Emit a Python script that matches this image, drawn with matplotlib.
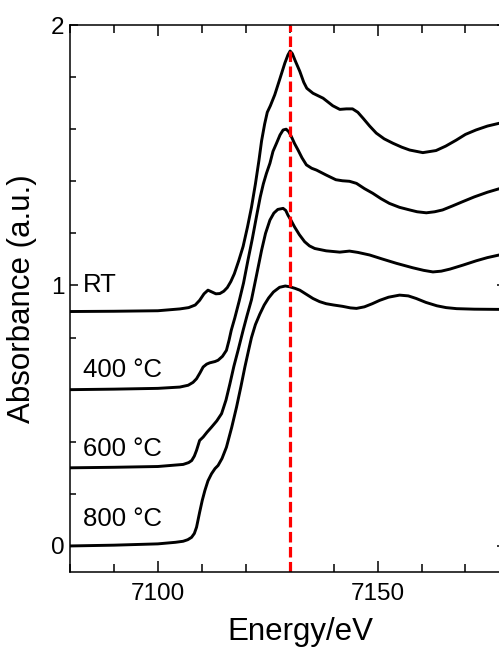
import numpy as np
import matplotlib
matplotlib.use("Agg")
import matplotlib.pyplot as plt
from matplotlib.ticker import MultipleLocator

plt.rcParams['font.family'] = ['Liberation Sans', 'DejaVu Sans']

# 数据: 能量 (eV) 与吸收 (已偏移)
e_rt = [7080, 7090, 7100, 7105, 7107, 7108.5, 7109.5, 7110.5, 7111.4, 7112.3, 7113.2, 7114.1,
        7115, 7115.8, 7116.6, 7117.4, 7118.4, 7119.4, 7120.4, 7121.3, 7122.2, 7123, 7123.6,
        7124.3, 7124.9, 7125.6, 7126.6, 7127.7, 7128.9, 7129.6, 7130.1, 7130.6, 7131.2,
        7132.3, 7133.2, 7133.9, 7135.3, 7137.6, 7139.8, 7141.4, 7142.9, 7144.3, 7145.5,
        7146.7, 7148.2, 7149.7, 7151.5, 7153.5, 7155.5, 7157.3, 7160.3, 7163.3, 7165.5,
        7167.9, 7170, 7172.4, 7175, 7179]
a_rt = [0.900, 0.901, 0.903, 0.910, 0.915, 0.925, 0.943, 0.968, 0.982, 0.975, 0.968, 0.969,
        0.978, 0.992, 1.015, 1.045, 1.095, 1.150, 1.225, 1.300, 1.390, 1.480, 1.555,
        1.620, 1.665, 1.690, 1.732, 1.790, 1.854, 1.885, 1.900, 1.890, 1.865,
        1.822, 1.780, 1.757, 1.738, 1.719, 1.690, 1.676, 1.678, 1.678, 1.665,
        1.642, 1.612, 1.585, 1.563, 1.546, 1.531, 1.520, 1.510, 1.518, 1.535,
        1.558, 1.580, 1.597, 1.612, 1.628]

e_400 = [7080, 7090, 7100, 7105, 7106.9, 7108, 7108.8, 7109.6, 7110.3, 7111.1, 7111.8, 7113,
         7113.7, 7114.7, 7115.6, 7116.2, 7116.7, 7117.5, 7118.5, 7119.5, 7120.5, 7121.5,
         7122.5, 7123.3, 7124.0, 7124.7, 7125.5, 7126.2, 7127, 7127.8, 7128.5, 7129.2,
         7129.8, 7130.4, 7131.1, 7131.9, 7132.8, 7133.8, 7135, 7136.1, 7138.3, 7140.5,
         7142, 7143.6, 7145.2, 7147, 7148.9, 7150.8, 7152.7, 7155, 7157.3, 7159, 7161.1,
         7163, 7164.8, 7167, 7169.4, 7172, 7175, 7179]
a_400 = [0.600, 0.602, 0.605, 0.610, 0.617, 0.628, 0.642, 0.665, 0.687, 0.698, 0.703, 0.708,
         0.713, 0.728, 0.751, 0.790, 0.828, 0.875, 0.940, 1.010, 1.097, 1.180,
         1.270, 1.340, 1.390, 1.430, 1.469, 1.515, 1.546, 1.578, 1.597, 1.600,
         1.590, 1.571, 1.545, 1.520, 1.490, 1.463, 1.450, 1.443, 1.424, 1.406,
         1.402, 1.400, 1.392, 1.372, 1.354, 1.333, 1.315, 1.300, 1.290, 1.283, 1.279,
         1.283, 1.290, 1.305, 1.322, 1.340, 1.358, 1.378]

e_600 = [7080, 7090, 7100, 7105.75, 7107, 7107.7, 7108.3, 7108.8, 7109.5, 7110.3, 7111.2,
         7112.2, 7113.4, 7114.5, 7115.5, 7116.4, 7117.3, 7118.25, 7119.4, 7120.3, 7121.3,
         7122.4, 7123.6, 7124.5, 7125.5, 7126.4, 7127.3, 7128.5, 7129.1, 7129.6, 7130.3,
         7131.1, 7132.2, 7133.4, 7134.5, 7135.7, 7138.3, 7141.4, 7143.6, 7145.5, 7148.2,
         7151, 7154.3, 7158, 7160.5, 7162.6, 7164.5, 7166.5, 7169.4, 7172.5, 7175, 7179]
a_600 = [0.300, 0.302, 0.305, 0.313, 0.320, 0.328, 0.345, 0.367, 0.405, 0.418, 0.437,
         0.456, 0.480, 0.508, 0.560, 0.623, 0.690, 0.751, 0.828, 0.885, 0.945,
         1.035, 1.135, 1.200, 1.251, 1.278, 1.292, 1.296, 1.288, 1.270, 1.250,
         1.225, 1.195, 1.168, 1.152, 1.142, 1.133, 1.128, 1.132, 1.127, 1.117,
         1.102, 1.085, 1.068, 1.058, 1.052, 1.055, 1.063, 1.078, 1.095, 1.107, 1.122]

e_800 = [7080, 7090, 7100, 7104, 7105.75, 7106.8, 7107.66, 7108.3, 7108.8, 7109.5, 7110.1,
         7110.7, 7111.4, 7112.2, 7113, 7113.7, 7114.6, 7115.6, 7116.8, 7117.9, 7118.9,
         7119.8, 7120.6, 7121.3, 7122.2, 7123.2, 7124.2, 7125.2, 7126.3, 7127.7, 7129,
         7130, 7131.2, 7132.3, 7133.8, 7135.3, 7136.8, 7138.3, 7140, 7142, 7143.8, 7145.2,
         7147, 7148.8, 7150.5, 7152.5, 7155, 7157, 7158.8, 7161, 7163.5, 7165.6, 7168,
         7172, 7179]
a_800 = [0.000, 0.003, 0.008, 0.014, 0.018, 0.024, 0.033, 0.048, 0.072, 0.129, 0.175,
         0.213, 0.250, 0.277, 0.297, 0.309, 0.336, 0.379, 0.455, 0.533, 0.612,
         0.687, 0.748, 0.800, 0.850, 0.890, 0.925, 0.952, 0.975, 0.993, 0.998,
         0.995, 0.989, 0.982, 0.966, 0.950, 0.938, 0.930, 0.925, 0.920, 0.914, 0.912,
         0.918, 0.930, 0.943, 0.955, 0.963, 0.960, 0.950, 0.935, 0.922, 0.915, 0.911,
         0.909, 0.908]

labels = ['RT', '400 °C', '600 °C', '800 °C']
label_y = [0.975, 0.648, 0.347, 0.078]
peak_e = 7130

fig = plt.figure(figsize=(4.99, 6.48), dpi=100)
ax = fig.add_axes([70 / 499, 76 / 648, 435 / 499, 547 / 648])

for e, a in [(e_rt, a_rt), (e_400, a_400), (e_600, a_600), (e_800, a_800)]:
    ax.plot(e, a, color='black', lw=2.1, solid_joinstyle='round')

ax.axvline(peak_e, color='red', lw=2.3, ls=(0, (3.3, 1.4)))

for lab, y in zip(labels, label_y):
    ax.text(7083, y, lab, fontsize=18.5, ha='left', va='baseline')

ax.set_xlim(7080, 7179)
ax.set_ylim(-0.1, 2)
ax.xaxis.set_major_locator(MultipleLocator(50))
ax.xaxis.set_minor_locator(MultipleLocator(10))
ax.yaxis.set_major_locator(MultipleLocator(1))
ax.yaxis.set_minor_locator(MultipleLocator(0.2))
ax.tick_params(which='both', direction='in', top=True, right=True, width=1.1)
ax.tick_params(axis='x', which='major', length=8, pad=8, labelsize=17.5)
ax.tick_params(axis='x', which='minor', length=5.5)
ax.tick_params(axis='y', which='major', length=6, pad=4, labelsize=17.5)
ax.tick_params(axis='y', which='minor', length=4)
for s in ax.spines.values():
    s.set_linewidth(1.1)

ax.set_xlabel('Energy/eV', fontsize=22.5, va='baseline')
ax.set_ylabel('Absorbance (a.u.)', fontsize=22.5, va='center')
ax.xaxis.set_label_coords(230 / 435, -68 / 547)
ax.yaxis.set_label_coords(-48 / 435, 0.5)

fig.savefig('out.png', dpi=100)
